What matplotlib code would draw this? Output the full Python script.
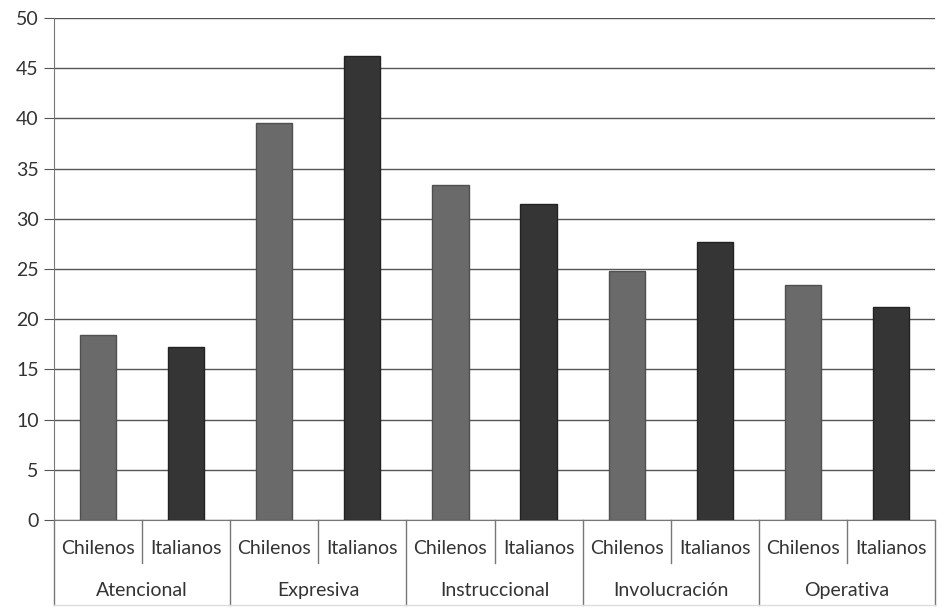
import matplotlib.pyplot as plt
import numpy as np

plt.rcParams['font.family'] = ['Lato', 'DejaVu Sans']

grupos = ['Atencional', 'Expresiva', 'Instruccional', 'Involucración', 'Operativa']
series = ['Chilenos', 'Italianos']
chilenos = [18.4, 39.5, 33.4, 24.8, 23.4]
italianos = [17.2, 46.2, 31.5, 27.7, 21.2]
yticks = [0, 5, 10, 15, 20, 25, 30, 35, 40, 45, 50]

fig = plt.figure(figsize=(9.42, 6.12), dpi=100)
ax = fig.add_axes([54 / 942, 92 / 612, 881 / 942, 502 / 612])

n = len(grupos)
pos_chi = np.arange(n) * 2
pos_ita = np.arange(n) * 2 + 1
ancho = 0.41
ax.bar(pos_chi, chilenos, ancho, color='#6a6a6a', edgecolor='#505050', linewidth=1, zorder=3)
ax.bar(pos_ita, italianos, ancho, color='#353535', edgecolor='#222222', linewidth=1, zorder=3)

ax.set_xlim(-0.5, 2 * n - 0.5)
ax.set_ylim(0, 50)
ax.set_yticks(yticks)
ax.yaxis.grid(True, color='#555555', linewidth=1, zorder=0)
ax.tick_params(axis='y', length=7, color='#555555', labelsize=14, labelcolor='#333333', pad=4)
ax.tick_params(axis='x', length=0)
ax.set_xticks([])
for s in ['top', 'right']:
    ax.spines[s].set_visible(False)
ax.spines['left'].set_color('#777777')
ax.spines['bottom'].set_color('#777777')

# eje de categorias en dos niveles
tr = ax.get_xaxis_transform()
for i in range(n + 1):
    x = 2 * i - 0.5
    ax.plot([x, x], [0, -0.17], transform=tr, color='#777777', lw=1, clip_on=False)
for i in range(n):
    x = 2 * i + 0.5
    ax.plot([x, x], [0, -0.085], transform=tr, color='#777777', lw=1, clip_on=False)
    ax.text(pos_chi[i], -0.056, series[0], transform=tr, ha='center', va='center', fontsize=14, color='#333333')
    ax.text(pos_ita[i], -0.056, series[1], transform=tr, ha='center', va='center', fontsize=14, color='#333333')
    ax.text(2 * i + 0.5, -0.14, grupos[i], transform=tr, ha='center', va='center', fontsize=14, color='#333333')
ax.plot([-0.5, 2 * n - 0.5], [-0.17, -0.17], transform=tr, color='#dddddd', lw=1, clip_on=False)

fig.savefig('out.png', dpi=100)
